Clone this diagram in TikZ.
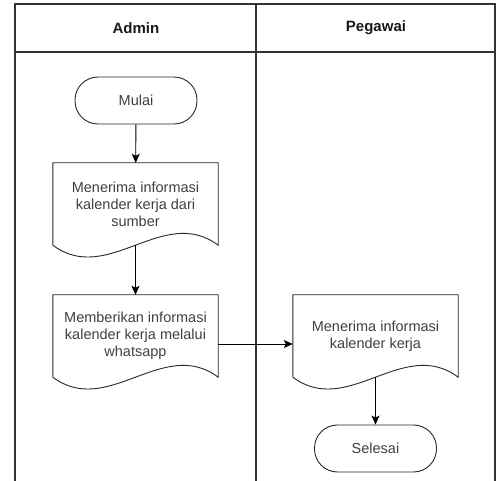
\documentclass[tikz,border=0pt]{standalone}
\usepackage{fontspec}
\setmainfont{Liberation Sans}
\usepackage{tikz}
\usetikzlibrary{arrows.meta}

\tikzset{
  garis/.style={draw=black!85, line width=0.9pt},
  lajur/.style={draw=black!80, line width=1.3pt},
  terminal/.style={garis, rounded corners=23pt, minimum width=122pt, minimum height=47pt,
    text=black!75, font=\fontsize{14.5}{17}\selectfont},
  dok/.style={minimum width=165pt, minimum height=82pt, align=center,
    text=black!75, font=\fontsize{14.5}{17}\selectfont},
  judul/.style={font=\fontsize{15}{18}\selectfont\bfseries, text=black!90},
  panah/.style={draw=black, line width=0.9pt, -{Stealth[length=9pt,width=8pt,inset=2pt]}}
}
\newcommand{\dokumen}[1]{\draw[garis] (#1.south west) -- (#1.north west) -- (#1.north east) -- (#1.south east)
  .. controls ([xshift=-55pt,yshift=41pt]#1.south east) and ([xshift=55pt,yshift=-41pt]#1.south west) .. (#1.south west);}

\begin{document}
\begin{tikzpicture}[x=1pt, y=-1pt]
      \useasboundingbox (0, 0) rectangle (496, 481);
      \draw[lajur] (15, 481) -- (15, 4) -- (495, 4) -- (495, 481);
      \draw[lajur] (15, 52) -- (495, 52);
      \draw[lajur] (256, 4) -- (256, 481);
      \node[judul] (admin) at (136, 28) {Admin};
      \node[judul] (pegawai) at (376, 28) {Pegawai};
      \node[terminal] (mulai) at (136, 100.5) {Mulai};
      \node[dok] (sumber) at (135.5, 204) {Menerima informasi\\kalender kerja dari\\sumber};
      \node[dok] (kirim) at (135.5, 336) {Memberikan informasi\\kalender kerja melalui\\whatsapp};
      \node[dok] (terima) at (375.5, 336) {Menerima informasi\\kalender kerja};
      \node[terminal] (selesai) at (375.5, 448.5) {Selesai};
      \dokumen{sumber}
      \dokumen{kirim}
      \dokumen{terima}
      \draw[panah] (mulai) -- (sumber);
      \draw[panah] (sumber.south) -- (kirim);
      \draw[panah] ([yshift=-8pt]kirim.east) -- ([yshift=-8pt]terima.west);
      \draw[panah] (terima.south) -- (selesai);
    \end{tikzpicture}
\end{document}
